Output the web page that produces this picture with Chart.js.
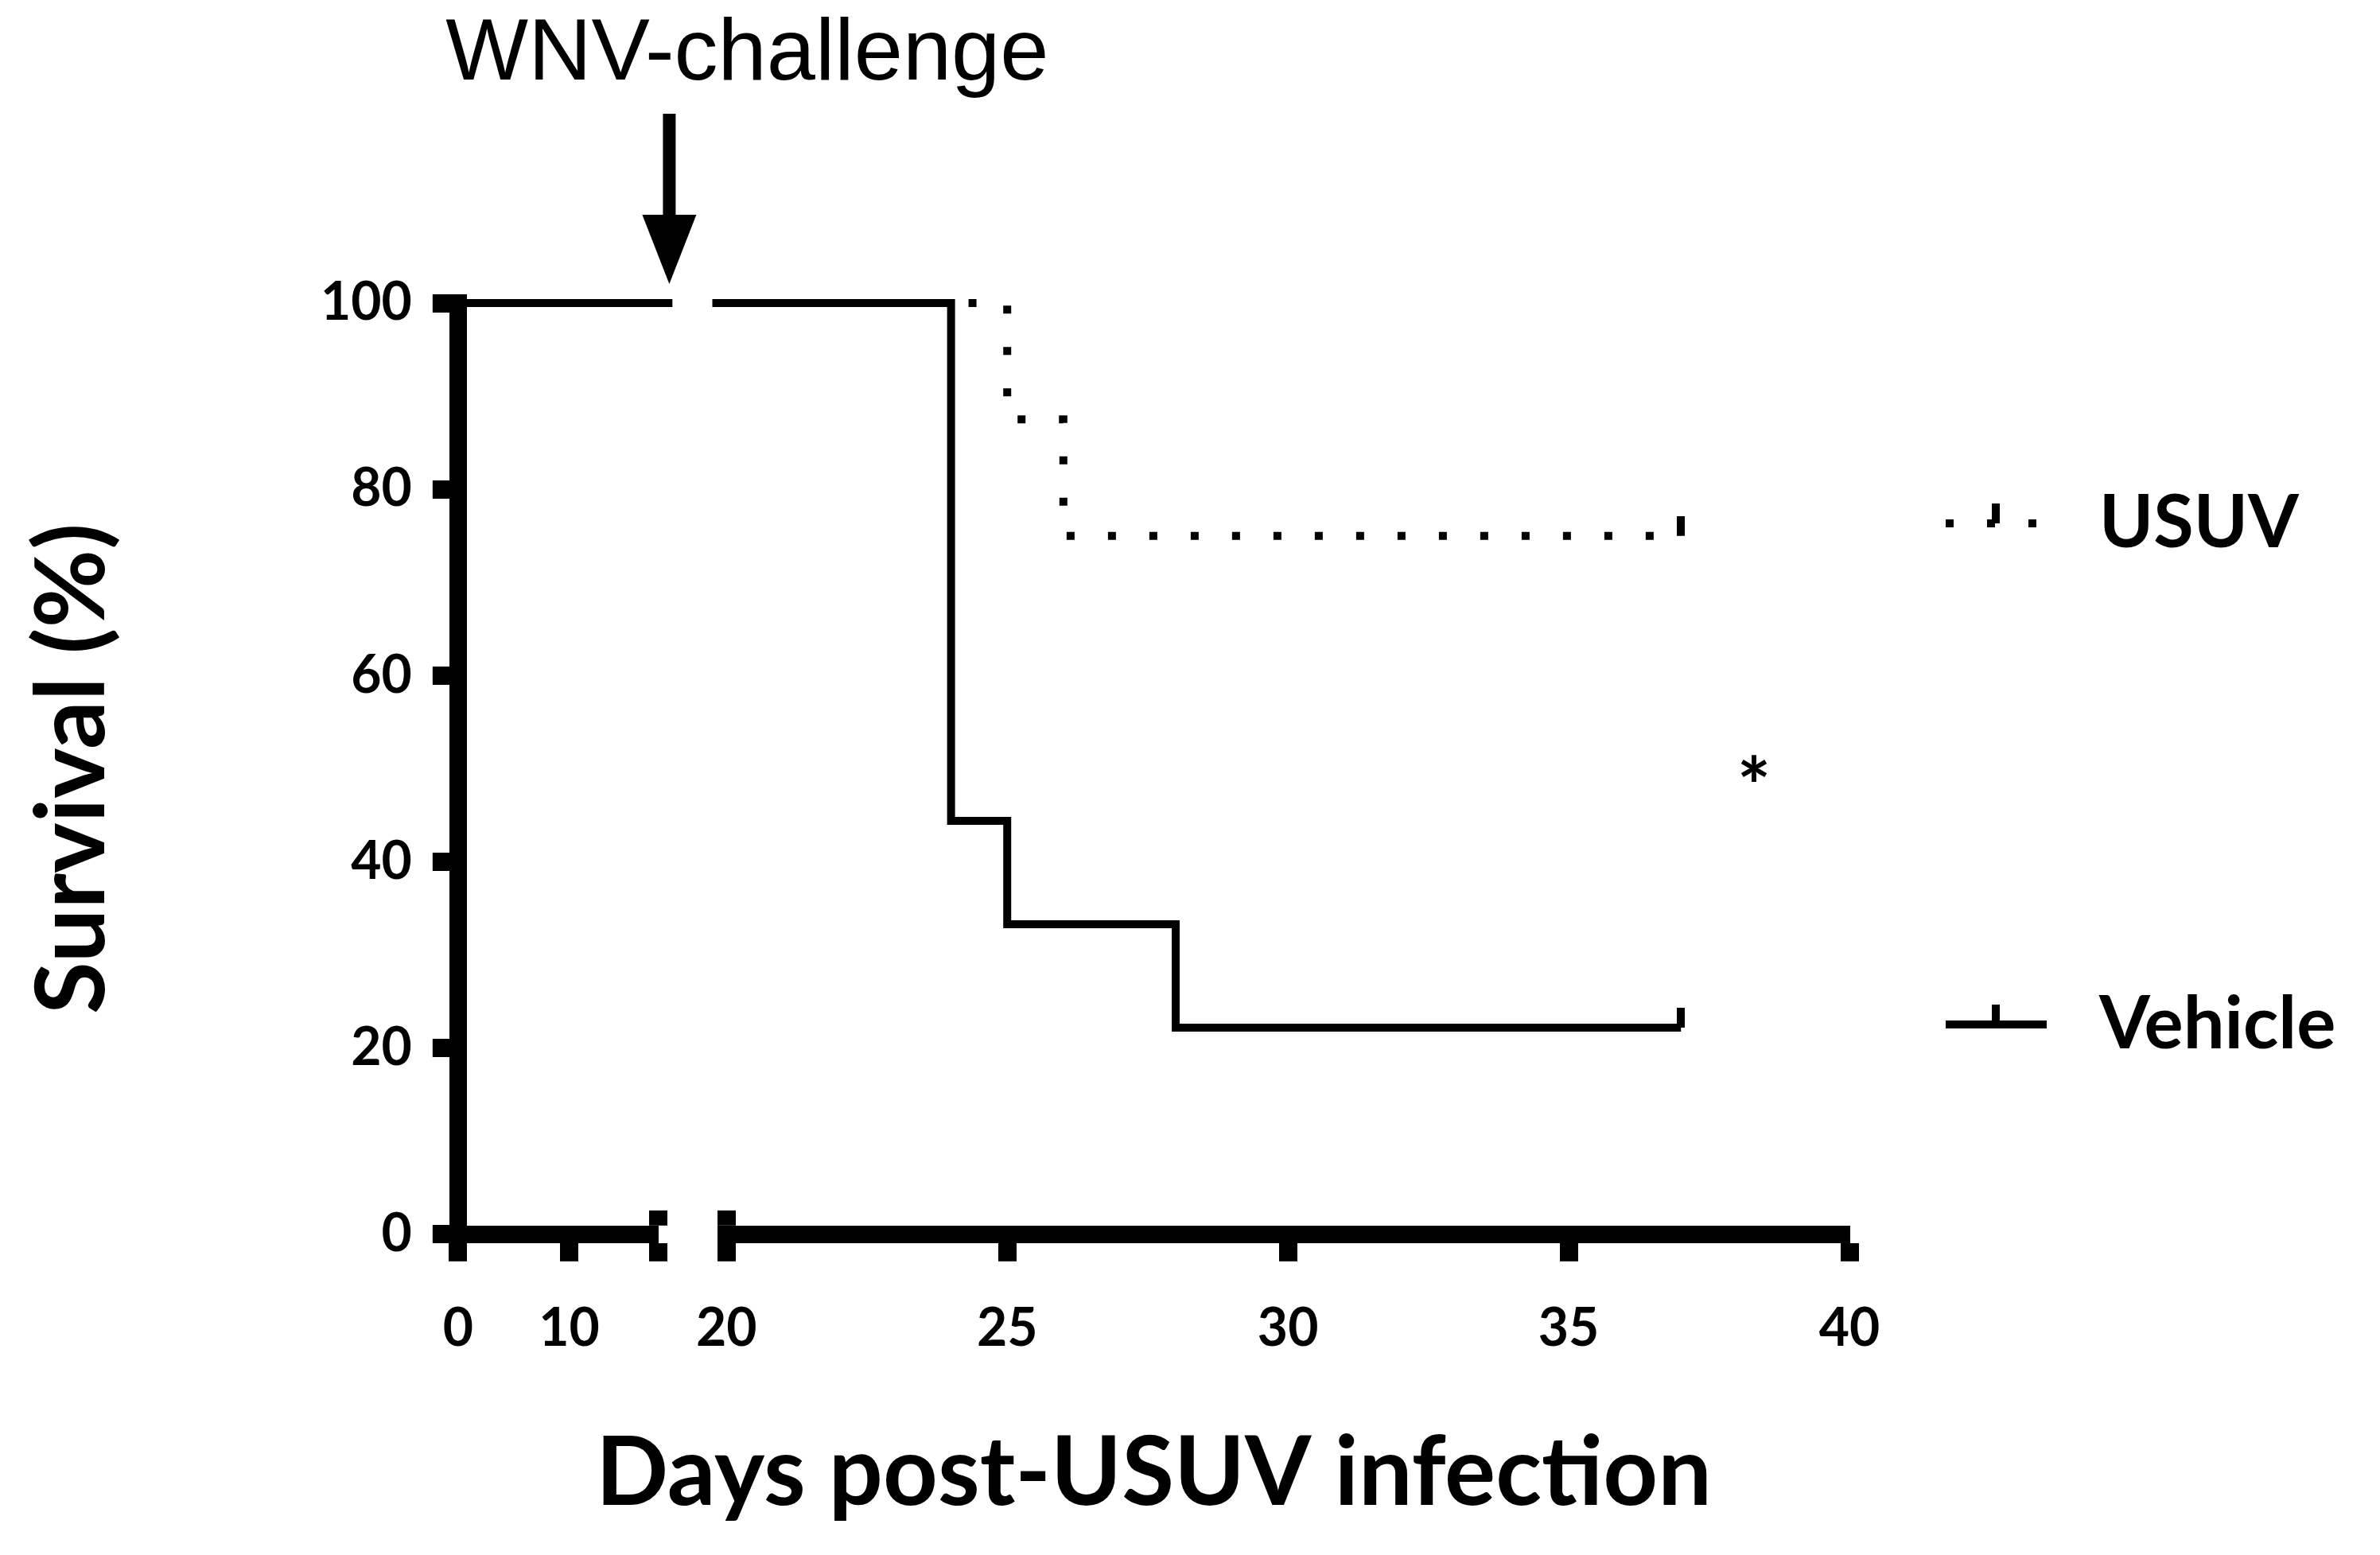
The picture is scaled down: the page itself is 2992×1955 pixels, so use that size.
<!DOCTYPE html>
<html>
<head>
<meta charset="utf-8">
<script src="https://cdn.jsdelivr.net/npm/chart.js@4/dist/chart.umd.min.js"></script>
<style>
  html, body { margin: 0; padding: 0; background: #fff; }
  #wrap { width: 2992px; height: 1955px; position: relative; background: #fff; }
</style>
</head>
<body>
<div id="wrap"><canvas id="c"></canvas></div>
<script>
// ---------------- data ----------------
const usuvDays = [0, 25, 26, 37];
const usuvSurvival = [100, 87.5, 75, 75];
const vehicleDays = [0, 24, 25, 28, 37];
const vehicleSurvival = [100, 44.4, 33.3, 22.2, 22.2];
const seriesNames = ['USUV', 'Vehicle'];

const xTicksLeft = [0, 10];
const xBreakLeftEnd = 18;
const xTicksRight = [20, 25, 30, 35, 40];
const yTicks = [0, 20, 40, 60, 80, 100];

const challengeDay = 19;
const challengeLabel = 'WNV-challenge';
const significanceMark = '*';
const significanceDay = 38.3;
const significanceLevel = 50;

const xTitleText = 'Days post-USUV infection';
const yTitleText = 'Survival (%)';
// --------------------------------------

const toXY = (days, vals) => days.map((d, i) => ({ x: d, y: vals[i] }));

function censorMark() {
  const c = document.createElement('canvas');
  c.width = 10; c.height = 50;
  const g = c.getContext('2d');
  g.fillStyle = '#000';
  g.fillRect(0, 0, 10, 25);
  return c;
}
const censor = censorMark();

const USUV_DASH = [10, 42];

function lineStyle(xAxisID, dash) {
  return {
    xAxisID, yAxisID: 'y',
    stepped: true,
    borderColor: '#000',
    backgroundColor: '#000',
    borderWidth: 10,
    borderDash: dash,
    borderCapStyle: 'butt',
    borderJoinStyle: 'miter',
    fill: false,
    pointStyle: censor,
    pointRadius: ctx => (ctx.dataIndex === ctx.dataset.data.length - 1 ? 5 : 0),
    pointHoverRadius: 0,
    clip: { left: 18, right: 18, top: 14, bottom: 14 }
  };
}

const usuvData = toXY(usuvDays, usuvSurvival);
const vehicleData = toXY(vehicleDays, vehicleSurvival);

const tickFont = { family: 'Lato', size: 66, weight: 'bold' };
const titleFont = { family: 'Lato', size: 120, weight: 'bold' };

const legendRows = [
  { name: seriesNames[0], dash: USUV_DASH, at: 76.3 },
  { name: seriesNames[1], dash: [], at: 22.5 }
];

const decorations = {
  id: 'decorations',
  beforeDatasetDraw(chart, args) {
    const { ctx, chartArea: a } = chart;
    const meta = args.meta;
    const c = meta._clip || { left: 0, right: 0, top: 0, bottom: 0 };
    const xs = meta.xScale;
    const l = xs.left - (c.left || 0), r = xs.right + (c.right || 0);
    const t = a.top - (c.top || 0), b = a.bottom + (c.bottom || 0);
    ctx.save();
    ctx.beginPath();
    ctx.rect(l, t, r - l, b - t);
    ctx.clip();
  },
  afterDatasetDraw(chart) {
    chart.ctx.restore();
  },
  afterDraw(chart) {
    const { ctx, chartArea: a, scales } = chart;
    const xL = scales.xL, xR = scales.xR, y = scales.y;
    ctx.save();
    ctx.fillStyle = '#000';
    ctx.strokeStyle = '#000';

    // axis-break marks (upper part of the end ticks)
    const half = 11;
    [xL.getPixelForValue(xL.max), xR.getPixelForValue(xR.min)].forEach(px => {
      ctx.fillRect(Math.round(px - 11.5), a.bottom - half - 19, 23, 19);
    });

    // WNV challenge arrow + label
    const ax = xL.getPixelForValue(challengeDay);
    const tip = a.top - 24;
    ctx.fillRect(ax - 8, tip - 214, 16, 130);
    ctx.beginPath();
    ctx.moveTo(ax - 34, tip - 87);
    ctx.lineTo(ax + 34, tip - 87);
    ctx.lineTo(ax, tip);
    ctx.closePath();
    ctx.fill();
    ctx.font = '110px "Liberation Sans", Arial, sans-serif';
    ctx.textAlign = 'center';
    ctx.textBaseline = 'alphabetic';
    ctx.fillText(challengeLabel, ax + 98, a.top - 281);

    // significance asterisk
    ctx.font = 'bold 100px Lato';
    ctx.textAlign = 'center';
    ctx.textBaseline = 'middle';
    ctx.fillText(significanceMark, xR.getPixelForValue(significanceDay), y.getPixelForValue(significanceLevel) + 26);

    // legend
    const x0 = a.right + 121;
    legendRows.forEach(row => {
      const yy = Math.round(y.getPixelForValue(row.at));
      ctx.save();
      ctx.lineWidth = 10;
      ctx.lineCap = 'butt';
      ctx.setLineDash(row.dash);
      ctx.beginPath();
      ctx.moveTo(x0, yy);
      ctx.lineTo(x0 + 127, yy);
      ctx.stroke();
      ctx.restore();
      ctx.fillRect(x0 + 58, yy - 25, 10, 25);
      ctx.font = 'bold 92px Lato';
      ctx.textAlign = 'left';
      ctx.textBaseline = 'middle';
      ctx.fillText(row.name, x0 + 193, yy);
    });
    ctx.restore();
  }
};

const gridStyle = { drawOnChartArea: false, drawTicks: true, tickColor: '#000', tickWidth: 23, color: '#000' };

new Chart(document.getElementById('c'), {
  type: 'line',
  data: {
    datasets: [
      { label: seriesNames[1], data: vehicleData, ...lineStyle('xL', []) },
      { label: seriesNames[1], data: vehicleData, ...lineStyle('xR', []) },
      { label: seriesNames[0], data: usuvData, ...lineStyle('xL', USUV_DASH) },
      { label: seriesNames[0], data: usuvData, ...lineStyle('xR', USUV_DASH) }
    ]
  },
  options: {
    responsive: true,
    maintainAspectRatio: false,
    animation: false,
    events: [],
    devicePixelRatio: 1,
    layout: { padding: { left: 10, right: 667, top: 381, bottom: 30 } },
    plugins: { legend: { display: false }, tooltip: { enabled: false }, title: { display: false } },
    scales: {
      xL: {
        type: 'linear', position: 'bottom', stack: 'days', stackWeight: 252, weight: 0,
        min: 0, max: xBreakLeftEnd,
        afterBuildTicks: s => { s.ticks = [...xTicksLeft, xBreakLeftEnd].map(v => ({ value: v })); },
        ticks: { font: tickFont, color: '#000', padding: 45, maxRotation: 0, autoSkip: false,
                 callback: v => (xTicksLeft.includes(v) ? String(v) : '') },
        grid: { ...gridStyle, tickLength: 34 },
        border: { display: true, width: 22, color: '#000' }
      },
      xGap: {
        type: 'linear', position: 'bottom', stack: 'days', stackWeight: 86, weight: 0,
        ticks: { display: false },
        grid: { display: false, drawTicks: false },
        border: { display: false }
      },
      xR: {
        type: 'linear', position: 'bottom', stack: 'days', stackWeight: 1414, weight: 0,
        min: xTicksRight[0], max: xTicksRight[xTicksRight.length - 1],
        afterBuildTicks: s => { s.ticks = xTicksRight.map(v => ({ value: v })); },
        ticks: { font: tickFont, color: '#000', padding: 45, maxRotation: 0, autoSkip: false,
                 callback: v => String(v) },
        grid: { ...gridStyle, tickLength: 34 },
        border: { display: true, width: 22, color: '#000' }
      },
      xT: {
        type: 'linear', position: 'bottom', weight: 1,
        ticks: { display: false },
        grid: { display: false, drawTicks: false },
        border: { display: false },
        title: { display: true, text: xTitleText, font: titleFont, color: '#000', padding: { top: 26, bottom: 0 } }
      },
      y: {
        type: 'linear', position: 'left', min: 0, max: 100,
        afterBuildTicks: s => { s.ticks = yTicks.map(v => ({ value: v })); },
        ticks: { font: tickFont, color: '#000', padding: 26, callback: v => String(v) },
        grid: { ...gridStyle, tickLength: 32 },
        border: { display: true, width: 22, color: '#000' },
        title: { display: true, text: yTitleText, font: titleFont, color: '#000', padding: { top: 10, bottom: 213 } }
      }
    }
  },
  plugins: [decorations]
});
</script>
</body>
</html>
